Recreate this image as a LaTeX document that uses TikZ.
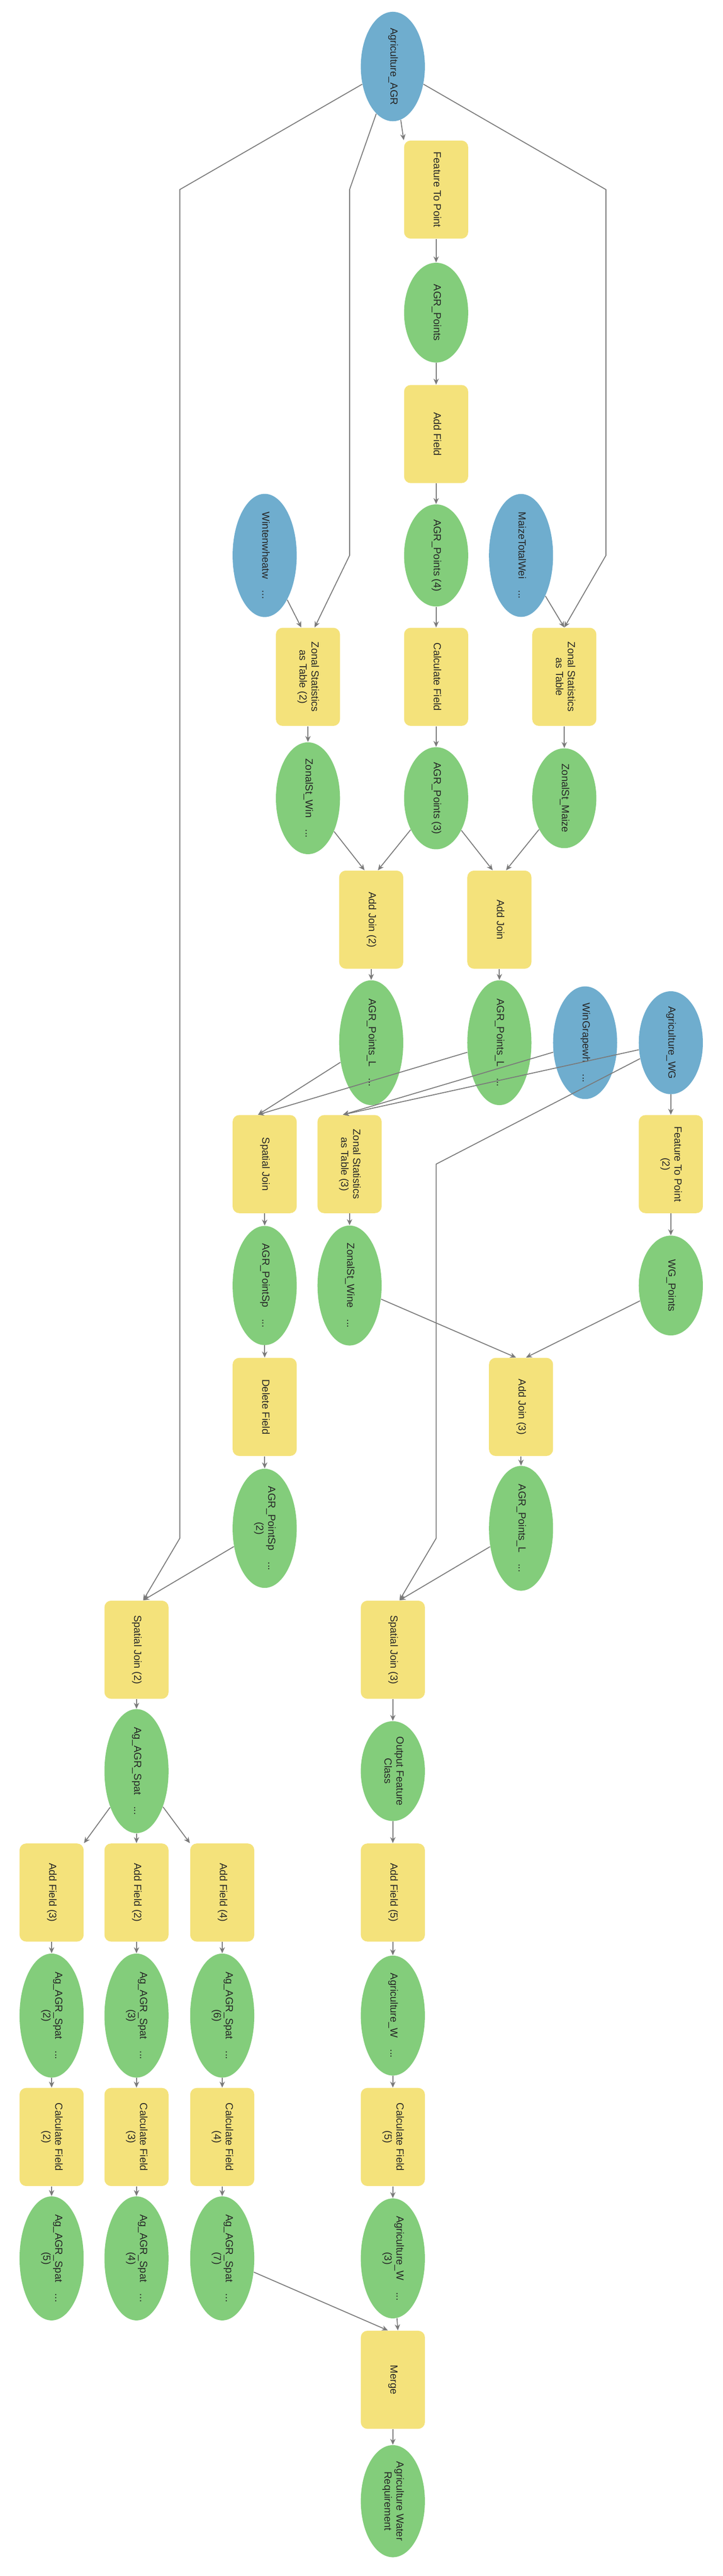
\documentclass[tikz,border=0pt]{standalone}
\usepackage{fontspec}
\setmainfont{Liberation Sans}
\usetikzlibrary{arrows.meta,shapes.geometric}
\definecolor{cblue}{HTML}{6FADCE}
\definecolor{cgreen}{HTML}{83CD7B}
\definecolor{cyel}{HTML}{F4E27B}
\definecolor{cedge}{HTML}{7A7A7A}
\newcommand{\lbl}[1]{\rotatebox{-90}{\begin{tabular}{@{}c@{}}#1\end{tabular}}}
\tikzset{
  base/.style={inner sep=0pt, font=\fontsize{6.2}{7.2}\selectfont, text=black!85},
  inp/.style={base, ellipse, fill=cblue, minimum width=38.5, minimum height=60},
  dat/.style={base, ellipse, fill=cgreen, minimum width=38.5, minimum height=60},
  tool/.style={base, rectangle, rounded corners=4, fill=cyel, minimum width=38.5, minimum height=59},
  edge/.style={draw=cedge, line width=0.55, -{Stealth[length=3.6,width=3.2]}},
  plain/.style={draw=cedge, line width=0.55},
}
\begin{document}
\begin{tikzpicture}[x=1pt,y=-1pt]
\useasboundingbox (0,0) rectangle (434.1,1549);
% top
\node[inp] (agr) at (236,40) {\lbl{Agriculture\_AGR}};
\node[tool] (ftp) at (262,114) {\lbl{Feature To Point}};
\node[dat] (pts) at (262,188) {\lbl{AGR\_Points}};
\node[tool] (af) at (262,261) {\lbl{Add Field}};
\node[dat] (pts4) at (262,334) {\lbl{AGR\_Points (4)}};
\node[inp] (wint) at (159,334) {\lbl{Wintenwheatw\ \ \ \ ...}};
\node[inp] (maize) at (313,334) {\lbl{MaizeTotalWei\ \ \ \ ...}};
\node[tool] (zs2) at (185,407) {\lbl{Zonal Statistics\\as Table (2)}};
\node[tool] (cf) at (262,407) {\lbl{Calculate Field}};
\node[tool] (zs) at (339,407) {\lbl{Zonal Statistics\\as Table}};
\node[dat] (zwin) at (185,480) {\lbl{ZonalSt\_Win\ \ \ \ ...}};
\node[dat] (pts3) at (262,480) {\lbl{AGR\_Points (3)}};
\node[dat] (zmaize) at (339,480) {\lbl{ZonalSt\_Maize}};
\node[tool] (aj2) at (223,553) {\lbl{Add Join (2)}};
\node[tool] (aj) at (300,553) {\lbl{Add Join}};
\node[dat] (pl2) at (223,627) {\lbl{AGR\_Points\_L\ \ \ \ ...}};
\node[dat] (pl1) at (300,627) {\lbl{AGR\_Points\_L\ \ \ \ ...}};
\node[inp] (grape) at (351.5,627) {\lbl{WinGrapewh\ \ \ \ ...}};
\node[inp] (wg) at (403,627) {\lbl{Agriculture\_WG}};
\node[tool] (sj) at (159,700) {\lbl{Spatial Join}};
\node[tool] (zs3) at (210,700) {\lbl{Zonal Statistics\\as Table (3)}};
\node[tool] (ftp2) at (403,700) {\lbl{Feature To Point\\(2)}};
\node[dat] (psp) at (159,773) {\lbl{AGR\_PointSp\ \ \ \ ...}};
\node[dat] (zwine) at (210,773) {\lbl{ZonalSt\_Wine\ \ \ \ ...}};
\node[dat] (wgp) at (403,773) {\lbl{WG\_Points}};
\node[tool] (df) at (159,846) {\lbl{Delete Field}};
\node[tool] (aj3) at (313,846) {\lbl{Add Join (3)}};
\node[dat] (psp2) at (159,919) {\lbl{AGR\_PointSp\ \ \ \ ...\\(2)}};
\node[dat] (pl3) at (313,919) {\lbl{AGR\_Points\_L\ \ \ \ ...}};
\node[tool] (sj2) at (82,992) {\lbl{Spatial Join (2)}};
\node[tool] (sj3) at (236,992) {\lbl{Spatial Join (3)}};
\node[dat] (spat) at (82,1065) {\lbl{Ag\_AGR\_Spat\ \ \ \ ...}};
\node[dat] (ofc) at (236,1065) {\lbl{Output Feature\\Class}};
\node[tool] (af3) at (31,1138) {\lbl{Add Field (3)}};
\node[tool] (af2) at (82,1138) {\lbl{Add Field (2)}};
\node[tool] (af4) at (133.5,1138) {\lbl{Add Field (4)}};
\node[tool] (af5) at (236,1138) {\lbl{Add Field (5)}};
\node[dat] (s2) at (31,1212) {\lbl{Ag\_AGR\_Spat\ \ \ \ ...\\(2)}};
\node[dat] (s3) at (82,1212) {\lbl{Ag\_AGR\_Spat\ \ \ \ ...\\(3)}};
\node[dat] (s6) at (133.5,1212) {\lbl{Ag\_AGR\_Spat\ \ \ \ ...\\(6)}};
\node[dat] (aw) at (236,1212) {\lbl{Agriculture\_W\ \ \ \ ...}};
\node[tool] (cf2) at (31,1285) {\lbl{Calculate Field\\(2)}};
\node[tool] (cf3) at (82,1285) {\lbl{Calculate Field\\(3)}};
\node[tool] (cf4) at (133.5,1285) {\lbl{Calculate Field\\(4)}};
\node[tool] (cf5) at (236,1285) {\lbl{Calculate Field\\(5)}};
\node[dat] (s5) at (31,1358) {\lbl{Ag\_AGR\_Spat\ \ \ \ ...\\(5)}};
\node[dat] (s4) at (82,1358) {\lbl{Ag\_AGR\_Spat\ \ \ \ ...\\(4)}};
\node[dat] (s7) at (133.5,1358) {\lbl{Ag\_AGR\_Spat\ \ \ \ ...\\(7)}};
\node[dat] (aw3) at (236,1358) {\lbl{Agriculture\_W\ \ \ \ ...\\(3)}};
\node[tool] (merge) at (236,1431) {\lbl{Merge}};
\node[dat] (awr) at (236,1504) {\lbl{Agriculture Water\\Requirement}};
% bend coordinates
\coordinate (b1) at (108,114); \coordinate (b2) at (108,925);
\coordinate (b3) at (210,114); \coordinate (b4) at (210,334);
\coordinate (b5) at (364,114); \coordinate (b6) at (364,334);
\coordinate (b7) at (262,700); \coordinate (b8) at (262,925);
% edges
\draw[edge] (agr) -- (ftp.north west);
\draw[edge] (agr) -- (b1) -- (b2) -- ([xshift=4]sj2.north);
\draw[edge] (agr) -- (b3) -- (b4) -- ([xshift=4]zs2.north);
\draw[edge] (agr) -- (b5) -- (b6) -- ([xshift=0]zs.north);
\draw[edge] (ftp) -- (pts);
\draw[edge] (pts) -- (af);
\draw[edge] (af) -- (pts4);
\draw[edge] (pts4) -- (cf);
\draw[edge] (wint) -- ([xshift=-4]zs2.north);
\draw[edge] (maize) -- (zs.north);
\draw[edge] (zs2) -- (zwin);
\draw[edge] (cf) -- (pts3);
\draw[edge] (zs) -- (zmaize);
\draw[edge] (zwin) -- ([xshift=-4]aj2.north);
\draw[edge] (pts3) -- ([xshift=4]aj2.north);
\draw[edge] (pts3) -- ([xshift=-4]aj.north);
\draw[edge] (zmaize) -- ([xshift=4]aj.north);
\draw[edge] (aj2) -- (pl2);
\draw[edge] (aj) -- (pl1);
\draw[edge] (pl2) -- ([xshift=-4]sj.north);
\draw[edge] (pl1) -- ([xshift=-4]sj.north);
\draw[edge] (grape) -- ([xshift=-4]zs3.north);
\draw[edge] (wg) -- ([xshift=-4]zs3.north);
\draw[edge] (wg) -- (b7) -- (b8) -- ([xshift=4]sj3.north);
\draw[edge] (wg) -- (ftp2);
\draw[edge] (sj) -- (psp);
\draw[edge] (zs3) -- (zwine);
\draw[edge] (ftp2) -- (wgp);
\draw[edge] (psp) -- (df);
\draw[edge] (zwine) -- ([xshift=-3]aj3.north);
\draw[edge] (wgp) -- ([xshift=3]aj3.north);
\draw[edge] (df) -- (psp2);
\draw[edge] (aj3) -- (pl3);
\draw[edge] (psp2) -- ([xshift=4]sj2.north);
\draw[edge] (pl3) -- ([xshift=4]sj3.north);
\draw[edge] (sj2) -- (spat);
\draw[edge] (sj3) -- (ofc);
\draw[edge] (spat) -- (af3.north east);
\draw[edge] (spat) -- (af2);
\draw[edge] (spat) -- (af4.north west);
\draw[edge] (ofc) -- (af5);
\draw[edge] (af3) -- (s2); \draw[edge] (af2) -- (s3);
\draw[edge] (af4) -- (s6); \draw[edge] (af5) -- (aw);
\draw[edge] (s2) -- (cf2); \draw[edge] (s3) -- (cf3);
\draw[edge] (s6) -- (cf4); \draw[edge] (aw) -- (cf5);
\draw[edge] (cf2) -- (s5); \draw[edge] (cf3) -- (s4);
\draw[edge] (cf4) -- (s7); \draw[edge] (cf5) -- (aw3);
\draw[edge] (s7) -- ([xshift=-3]merge.north);
\draw[edge] (aw3) -- ([xshift=3]merge.north);
\draw[edge] (merge) -- (awr);
\end{tikzpicture}
\end{document}
